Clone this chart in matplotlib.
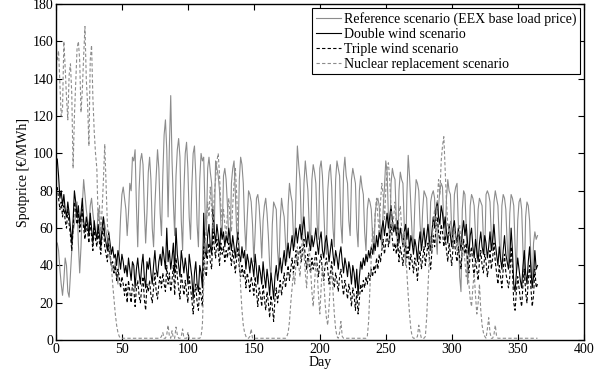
import numpy as np
import matplotlib.pyplot as plt

# Spot price scenarios, one value per day (EUR/MWh)
days = np.arange(1, 366)

reference = [
    52, 48, 38, 30, 24, 32, 44, 40, 26, 23, 36, 48, 58, 62,
    68, 74, 52, 36, 50, 72, 86, 78, 70, 64, 60, 72, 76, 68,
    62, 58, 56, 70, 64, 52, 60, 66, 62, 58, 54, 50, 44, 40,
    38, 36, 42, 34, 30, 48, 66, 78, 82, 76, 70, 56, 68, 84,
    80, 98, 96, 102, 72, 50, 80, 96, 100, 94, 70, 52, 68, 90,
    98, 86, 60, 50, 72, 88, 102, 92, 68, 56, 88, 110, 118, 102,
    66, 104, 131, 96, 74, 56, 88, 102, 108, 98, 64, 48, 80, 100,
    106, 92, 66, 54, 82, 100, 104, 88, 62, 50, 86, 100, 96, 98,
    70, 56, 92, 98, 90, 84, 62, 58, 96, 92, 88, 80, 62, 56,
    88, 92, 86, 72, 54, 50, 84, 92, 96, 78, 58, 52, 86, 98,
    94, 84, 62, 48, 66, 80, 78, 74, 62, 42, 58, 76, 78, 72,
    60, 44, 64, 72, 76, 68, 56, 40, 34, 62, 74, 72, 70, 48,
    38, 64, 76, 70, 66, 52, 42, 72, 84, 78, 74, 56, 50, 80,
    104, 94, 86, 62, 56, 84, 96, 88, 80, 60, 50, 86, 94, 90,
    84, 62, 54, 92, 96, 88, 70, 52, 46, 80, 90, 94, 82, 60,
    50, 86, 96, 92, 88, 62, 52, 90, 98, 88, 84, 64, 56, 86,
    92, 88, 84, 60, 50, 80, 88, 82, 78, 58, 48, 70, 76, 74,
    70, 56, 46, 68, 74, 76, 72, 58, 50, 70, 82, 96, 90, 66,
    52, 84, 92, 88, 86, 64, 48, 80, 90, 86, 84, 62, 40, 78,
    99, 88, 72, 56, 50, 72, 86, 84, 80, 62, 52, 70, 80, 78,
    76, 58, 48, 74, 78, 80, 76, 56, 46, 72, 80, 84, 82, 60,
    52, 76, 86, 80, 78, 58, 50, 78, 82, 84, 62, 34, 26, 70,
    80, 78, 60, 30, 46, 72, 78, 76, 72, 56, 44, 70, 76, 74,
    72, 54, 46, 78, 80, 78, 74, 56, 48, 74, 80, 76, 72, 54,
    42, 72, 78, 76, 70, 52, 40, 68, 78, 76, 72, 50, 36, 64,
    74, 76, 70, 48, 32, 66, 74, 72, 64, 44, 30, 52, 58, 54,
    56,
]

double_wind = [
    97, 88, 76, 80, 72, 78, 70, 66, 74, 68, 60, 52, 64, 80,
    74, 66, 72, 62, 68, 76, 64, 58, 66, 62, 56, 68, 60, 52,
    64, 58, 54, 62, 56, 50, 60, 66, 56, 52, 48, 58, 52, 46,
    50, 44, 46, 40, 48, 44, 38, 46, 42, 36, 40, 34, 44, 38,
    32, 42, 40, 28, 38, 44, 36, 30, 40, 46, 34, 28, 42, 38,
    44, 36, 30, 40, 48, 38, 34, 42, 46, 40, 50, 44, 38, 60,
    42, 48, 38, 44, 52, 36, 60, 46, 40, 34, 48, 42, 36, 44,
    38, 30, 46, 40, 34, 22, 36, 42, 30, 26, 40, 36, 28, 68,
    48, 44, 56, 62, 50, 46, 70, 58, 52, 62, 56, 48, 60, 54,
    58, 50, 56, 52, 60, 54, 48, 56, 50, 44, 52, 58, 46, 42,
    50, 44, 48, 38, 46, 42, 36, 44, 40, 34, 46, 38, 30, 40,
    36, 30, 42, 34, 28, 38, 32, 24, 36, 30, 22, 34, 40, 32,
    38, 44, 36, 42, 48, 40, 46, 52, 44, 50, 56, 48, 54, 60,
    52, 58, 62, 54, 60, 66, 56, 50, 58, 52, 48, 56, 50, 54,
    60, 52, 46, 54, 58, 48, 44, 52, 56, 50, 42, 48, 54, 46,
    40, 48, 44, 38, 46, 50, 42, 36, 44, 40, 34, 42, 38, 30,
    40, 36, 28, 38, 24, 34, 42, 38, 44, 40, 46, 42, 48, 44,
    50, 46, 52, 48, 56, 50, 58, 54, 60, 64, 56, 62, 68, 60,
    66, 72, 64, 58, 62, 56, 64, 52, 60, 56, 50, 58, 62, 54,
    60, 48, 56, 52, 46, 54, 50, 42, 52, 58, 48, 54, 60, 50,
    56, 62, 54, 48, 58, 66, 60, 70, 74, 66, 62, 72, 68, 60,
    66, 58, 52, 62, 56, 50, 60, 64, 56, 52, 60, 54, 48, 58,
    64, 56, 62, 52, 46, 56, 60, 50, 44, 54, 48, 42, 52, 58,
    50, 46, 56, 52, 44, 50, 58, 48, 54, 62, 52, 46, 40, 50,
    44, 38, 48, 56, 46, 42, 38, 44, 60, 48, 30, 26, 36, 44,
    38, 32, 28, 40, 48, 36, 30, 42, 50, 38, 28, 34, 48, 38,
    40,
]

triple_wind = [
    82, 76, 70, 74, 66, 72, 64, 60, 70, 62, 56, 48, 60, 74,
    70, 62, 68, 58, 64, 70, 60, 54, 62, 58, 52, 64, 56, 48,
    60, 54, 50, 58, 52, 46, 56, 60, 50, 46, 42, 52, 46, 40,
    42, 36, 40, 32, 38, 34, 28, 34, 30, 24, 30, 20, 32, 26,
    20, 30, 28, 18, 28, 32, 24, 20, 28, 34, 22, 16, 30, 26,
    32, 24, 20, 28, 36, 26, 22, 30, 34, 28, 36, 30, 26, 40,
    30, 36, 26, 32, 40, 24, 44, 34, 28, 22, 36, 30, 24, 32,
    26, 20, 34, 28, 22, 14, 24, 30, 20, 16, 28, 24, 18, 50,
    38, 34, 46, 52, 42, 38, 58, 50, 44, 54, 48, 40, 52, 46,
    50, 42, 48, 44, 52, 46, 40, 48, 42, 36, 44, 50, 38, 34,
    40, 34, 38, 28, 36, 32, 26, 34, 30, 24, 34, 26, 18, 28,
    24, 18, 30, 22, 16, 26, 20, 12, 24, 18, 10, 22, 28, 20,
    26, 32, 24, 30, 36, 28, 34, 40, 32, 38, 44, 36, 42, 48,
    40, 46, 50, 42, 48, 54, 44, 38, 46, 40, 36, 44, 38, 42,
    48, 40, 34, 42, 46, 36, 32, 40, 44, 38, 30, 36, 42, 34,
    28, 36, 32, 26, 34, 38, 30, 24, 32, 28, 22, 30, 26, 18,
    28, 24, 16, 26, 14, 22, 30, 26, 32, 28, 34, 30, 36, 32,
    38, 34, 40, 36, 44, 38, 46, 42, 48, 54, 46, 52, 58, 50,
    56, 62, 54, 48, 52, 46, 54, 42, 50, 46, 40, 48, 52, 44,
    50, 38, 46, 42, 36, 44, 40, 32, 42, 48, 38, 44, 50, 40,
    46, 52, 44, 38, 48, 56, 50, 60, 66, 58, 52, 62, 58, 50,
    56, 48, 42, 52, 46, 40, 50, 54, 46, 42, 50, 44, 38, 48,
    54, 46, 52, 42, 36, 46, 50, 40, 34, 44, 38, 32, 42, 48,
    40, 36, 46, 42, 34, 40, 48, 38, 44, 52, 42, 36, 30, 40,
    34, 28, 38, 46, 36, 32, 28, 34, 50, 38, 20, 16, 26, 34,
    28, 22, 18, 30, 38, 26, 20, 32, 40, 28, 18, 24, 38, 28,
    30,
]

nuclear = [
    150, 155, 138, 120, 124, 160, 146, 130, 118, 142, 148, 132, 92, 120,
    138, 156, 160, 150, 122, 134, 152, 168, 140, 126, 104, 150, 158, 130,
    112, 100, 92, 64, 72, 58, 70, 86, 105, 84, 62, 54, 48, 40,
    30, 22, 14, 8, 4, 2, 1, 1, 1, 1, 1, 1, 1, 1,
    1, 1, 1, 1, 1, 1, 1, 1, 1, 1, 1, 1, 1, 1,
    1, 1, 1, 1, 1, 1, 1, 1, 1, 2, 4, 1, 1, 3,
    8, 2, 1, 5, 1, 1, 7, 3, 1, 1, 2, 6, 1, 1,
    1, 4, 1, 1, 1, 1, 1, 1, 1, 1, 1, 2, 8, 30,
    52, 60, 74, 66, 82, 70, 60, 78, 86, 96, 100, 88, 72, 64,
    70, 62, 56, 68, 76, 64, 58, 72, 84, 92, 78, 60, 44, 28,
    16, 8, 4, 2, 1, 1, 2, 6, 1, 1, 1, 1, 1, 1,
    1, 1, 1, 1, 1, 1, 1, 1, 1, 1, 1, 1, 1, 1,
    1, 1, 1, 1, 1, 1, 2, 4, 10, 20, 28, 36, 30, 42,
    50, 40, 34, 48, 56, 46, 36, 28, 42, 50, 38, 26, 18, 30,
    42, 36, 24, 14, 28, 40, 32, 20, 12, 8, 18, 30, 38, 26,
    14, 6, 2, 1, 4, 10, 2, 1, 1, 1, 1, 1, 1, 1,
    1, 1, 1, 1, 1, 1, 1, 1, 1, 1, 1, 2, 10, 28,
    44, 60, 52, 68, 76, 66, 58, 74, 84, 78, 64, 80, 92, 95,
    86, 70, 58, 66, 74, 62, 54, 68, 72, 60, 50, 58, 48, 36,
    24, 14, 6, 2, 1, 1, 1, 2, 8, 4, 1, 1, 1, 2,
    12, 28, 44, 56, 48, 62, 70, 58, 74, 86, 78, 96, 104, 109,
    92, 74, 62, 56, 64, 58, 50, 60, 54, 48, 56, 62, 52, 44,
    50, 42, 34, 40, 30, 22, 18, 28, 36, 24, 14, 20, 30, 16,
    8, 4, 2, 1, 6, 12, 4, 1, 1, 3, 8, 2, 1, 1,
    1, 1, 1, 1, 1, 1, 1, 1, 1, 1, 1, 1, 1, 1,
    1, 1, 1, 1, 1, 1, 1, 1, 1, 1, 1, 1, 1, 1,
    1,
]

labels = ["Reference scenario (EEX base load price)", "Double wind scenario",
          "Triple wind scenario", "Nuclear replacement scenario"]

plt.rcParams['font.family'] = ['Liberation Serif', 'DejaVu Serif']
plt.rcParams['font.size'] = 10

# Graphique
fig, ax = plt.subplots(figsize=(6.08, 3.75), dpi=100)
fig.subplots_adjust(left=0.092, right=0.96, bottom=0.093, top=0.989)

ax.plot(days, reference, "-", color="#8c8c8c", lw=0.8, label=labels[0])
ax.plot(days, double_wind, "-", color="black", lw=0.8, label=labels[1])
ax.plot(days, triple_wind, "--", color="black", lw=0.8, dashes=(3, 2), label=labels[2])
ax.plot(days, nuclear, "--", color="#8c8c8c", lw=0.8, dashes=(3, 2), label=labels[3])

ax.set_xlim(0, 400)
ax.set_ylim(0, 180)
ax.set_xticks(np.arange(0, 401, 50))
ax.set_yticks(np.arange(0, 181, 20))
ax.tick_params(direction="in", top=True, right=True, length=4, pad=2)
for s in ax.spines.values():
    s.set_linewidth(1.0)

ax.set_xlabel("Day", labelpad=0)
ax.set_ylabel("Spotprice [€/MWh]", labelpad=2)

leg = ax.legend(loc="upper right", fancybox=False, framealpha=1, edgecolor="black",
                handlelength=1.8, handletextpad=0.2, labelspacing=0.15,
                borderaxespad=0.3, borderpad=0.25)
leg.get_frame().set_linewidth(0.8)

fig.savefig("out.png", dpi=100)
